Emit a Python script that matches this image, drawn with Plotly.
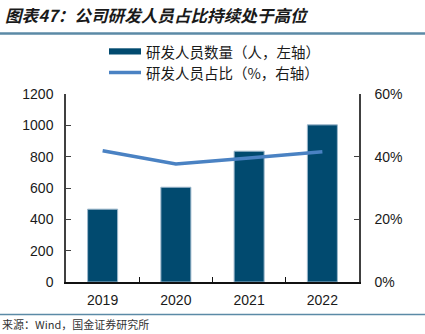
import plotly.graph_objects as go

years = ["2019", "2020", "2021", "2022"]
rd_staff = [465, 605, 835, 1003]
rd_share = [0.419, 0.377, 0.396, 0.416]

title_text = "图表47：公司研发人员占比持续处于高位"
legend_bar = "研发人员数量（人，左轴）"
legend_line = "研发人员占比（%，右轴）"
source_text = "来源：Wind，国金证券研究所"

W, H = 425, 334
ML, MR, MT, MB = 66, 66, 94, 52
PW, PH = W - ML - MR, H - MT - MB

def px(x):
    return (x - ML) / PW

def py(y):
    return (H - MB - y) / PH

BAR_C = "#014a6f"
LINE_C = "#4a82c3"
AX_C = "#404040"
CJK = "Noto Sans CJK SC"
LAT = "Liberation Sans, Arial"

fig = go.Figure()
fig.add_trace(go.Bar(x=years, y=rd_staff, name=legend_bar, marker_color=BAR_C,
                     marker_line=dict(color="#9db8cc", width=1), yaxis="y", showlegend=False))
fig.add_trace(go.Scatter(x=years, y=rd_share, name=legend_line, mode="lines",
                         line=dict(color=LINE_C, width=3.5), yaxis="y2", showlegend=False))

shapes = [
    dict(type="line", xref="paper", yref="paper", x0=px(0), x1=px(W), y0=py(33.5), y1=py(33.5),
         line=dict(color="#5b8aa6", width=2.5)),
    dict(type="line", xref="paper", yref="paper", x0=px(0), x1=px(W), y0=py(314.5), y1=py(314.5),
         line=dict(color="#5b8aa6", width=1.5)),
    dict(type="rect", xref="paper", yref="paper", x0=px(109), x1=px(141), y0=py(54.5), y1=py(48.3),
         fillcolor=BAR_C, line=dict(width=0)),
    dict(type="line", xref="paper", yref="paper", x0=px(109), x1=px(141), y0=py(72.5), y1=py(72.5),
         line=dict(color=LINE_C, width=3.5)),
]

annotations = [
    dict(text=title_text, xref="paper", yref="paper", x=px(3), y=py(15), xanchor="left", yanchor="middle",
         showarrow=False, font=dict(family=CJK, size=16.6, color="#1a1a1a", style="italic", weight="bold")),
    dict(text=legend_bar, xref="paper", yref="paper", x=px(144), y=py(51.5), xanchor="left", yanchor="middle",
         showarrow=False, font=dict(family=CJK, size=14.5, color="#1a1a1a")),
    dict(text=legend_line, xref="paper", yref="paper", x=px(144), y=py(72.5), xanchor="left", yanchor="middle",
         showarrow=False, font=dict(family=CJK, size=14.5, color="#1a1a1a")),
    dict(text=source_text, xref="paper", yref="paper", x=px(0), y=py(334), xanchor="left", yanchor="bottom",
         showarrow=False, font=dict(family=CJK, size=11, color="#333333")),
]

fig.update_layout(
    width=W, height=H, margin=dict(l=ML, r=MR, t=MT, b=MB, pad=0),
    paper_bgcolor="white", plot_bgcolor="white",
    bargap=0.59, shapes=shapes, annotations=annotations,
    font=dict(family=LAT, size=14, color="#1a1a1a"),
    xaxis=dict(type="category", showline=True, linecolor="#111111", linewidth=1.5, ticks="inside",
               tickson="boundaries", ticklen=5, tickcolor="#111111", showgrid=False,
               tickfont=dict(family=LAT, size=14), ticklabelstandoff=4),
    yaxis=dict(range=[0, 1200], dtick=200, showline=True, linecolor=AX_C, linewidth=1.5,
               ticks="inside", ticklen=5, tickcolor=AX_C, showgrid=False, zeroline=False,
               tickfont=dict(family=LAT, size=14), ticklabelstandoff=8),
    yaxis2=dict(range=[0, 0.6], dtick=0.2, tickformat=".0%", overlaying="y", side="right",
                showline=True, linecolor=AX_C, linewidth=1.5, ticks="inside", ticklen=5,
                tickcolor=AX_C, showgrid=False, zeroline=False,
                tickfont=dict(family=LAT, size=14), ticklabelstandoff=11),
)

fig.write_html("out.html")
